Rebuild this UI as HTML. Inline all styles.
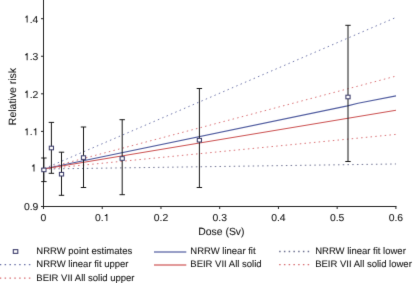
<!DOCTYPE html>
<html><head><meta charset="utf-8"><style>
html,body{margin:0;padding:0;background:#fff;width:413px;height:283px;overflow:hidden}
svg{display:block;will-change:transform}
text{font-family:"Liberation Sans", sans-serif;text-rendering:geometricPrecision;stroke:#141414;stroke-width:0.08px}
</style></head><body>
<svg width="413" height="283" viewBox="0 0 413 283">
<defs><filter id="soft" x="0" y="0" width="413" height="283" filterUnits="userSpaceOnUse" color-interpolation-filters="sRGB"><feConvolveMatrix order="3" kernelMatrix="1 10 1 10 100 10 1 10 1" divisor="144.0" edgeMode="duplicate" preserveAlpha="false"/></filter></defs>
<g filter="url(#soft)">
<rect x="0" y="0" width="413" height="283" fill="#fff"/>
<line x1="43.5" y1="169" x2="396" y2="163.98" stroke="#6c7090" stroke-width="0.95" stroke-dasharray="1.5 3.24" stroke-dashoffset="4.09"/>
<line x1="43.5" y1="169" x2="396" y2="134.4" stroke="#d86c70" stroke-width="0.95" stroke-dasharray="1.5 3.24" stroke-dashoffset="3.19"/>
<line x1="43.5" y1="169" x2="396" y2="76.1" stroke="#d86c70" stroke-width="0.95" stroke-dasharray="1.5 3.24" stroke-dashoffset="3.55"/>
<line x1="43.5" y1="169" x2="396" y2="17.4" stroke="#6a72a8" stroke-width="0.95" stroke-dasharray="1.5 3.24" stroke-dashoffset="3.53"/>
<polyline points="43.5,169 347.5,105.9 358,103.2 396,95.9" fill="none" stroke="#4e5a9e" stroke-width="1.1"/>
<line x1="43.5" y1="169" x2="396" y2="110.3" stroke="#cc5252" stroke-width="1.1"/>
<line x1="43.5" y1="0" x2="43.5" y2="207" stroke="#222222" stroke-width="1"/>
<line x1="43" y1="206.5" x2="396.5" y2="206.5" stroke="#222222" stroke-width="1"/>
<line x1="41" y1="206.50" x2="43.5" y2="206.50" stroke="#222222" stroke-width="1"/>
<g transform="translate(38.40,210.40) scale(1.04,1.0) translate(-38.40,-210.40)">
<text x="24.50" y="210.40" font-size="10.0" fill="#141414">0</text>
<text x="30.06" y="210.40" font-size="10.0" fill="#141414">.</text>
<text x="32.84" y="210.40" font-size="10.0" fill="#141414">9</text>
</g>
<line x1="41" y1="168.94" x2="43.5" y2="168.94" stroke="#222222" stroke-width="1"/>
<g transform="translate(36.60,171.44) scale(1.04,1.0) translate(-36.60,-171.44)">
<path transform="translate(31.04,171.44) scale(0.01000,-0.01000)" d="M352 0 L262 0 L262 500 L105 500 L105 568 Q238 575 270 712 L352 712 Z" fill="#141414"/>
</g>
<line x1="41" y1="131.38" x2="43.5" y2="131.38" stroke="#222222" stroke-width="1"/>
<g transform="translate(38.40,135.28) scale(1.04,1.0) translate(-38.40,-135.28)">
<path transform="translate(24.50,135.28) scale(0.01000,-0.01000)" d="M352 0 L262 0 L262 500 L105 500 L105 568 Q238 575 270 712 L352 712 Z" fill="#141414"/>
<text x="30.06" y="135.28" font-size="10.0" fill="#141414">.</text>
<path transform="translate(32.84,135.28) scale(0.01000,-0.01000)" d="M352 0 L262 0 L262 500 L105 500 L105 568 Q238 575 270 712 L352 712 Z" fill="#141414"/>
</g>
<line x1="41" y1="93.82" x2="43.5" y2="93.82" stroke="#222222" stroke-width="1"/>
<g transform="translate(38.40,97.72) scale(1.04,1.0) translate(-38.40,-97.72)">
<path transform="translate(24.50,97.72) scale(0.01000,-0.01000)" d="M352 0 L262 0 L262 500 L105 500 L105 568 Q238 575 270 712 L352 712 Z" fill="#141414"/>
<text x="30.06" y="97.72" font-size="10.0" fill="#141414">.</text>
<text x="32.84" y="97.72" font-size="10.0" fill="#141414">2</text>
</g>
<line x1="41" y1="56.26" x2="43.5" y2="56.26" stroke="#222222" stroke-width="1"/>
<g transform="translate(38.40,60.16) scale(1.04,1.0) translate(-38.40,-60.16)">
<path transform="translate(24.50,60.16) scale(0.01000,-0.01000)" d="M352 0 L262 0 L262 500 L105 500 L105 568 Q238 575 270 712 L352 712 Z" fill="#141414"/>
<text x="30.06" y="60.16" font-size="10.0" fill="#141414">.</text>
<text x="32.84" y="60.16" font-size="10.0" fill="#141414">3</text>
</g>
<line x1="41" y1="18.70" x2="43.5" y2="18.70" stroke="#222222" stroke-width="1"/>
<g transform="translate(38.40,22.60) scale(1.04,1.0) translate(-38.40,-22.60)">
<path transform="translate(24.50,22.60) scale(0.01000,-0.01000)" d="M352 0 L262 0 L262 500 L105 500 L105 568 Q238 575 270 712 L352 712 Z" fill="#141414"/>
<text x="30.06" y="22.60" font-size="10.0" fill="#141414">.</text>
<text x="32.84" y="22.60" font-size="10.0" fill="#141414">4</text>
</g>
<line x1="43.50" y1="206.5" x2="43.50" y2="209" stroke="#222222" stroke-width="1"/>
<g transform="translate(43.50,221.00) scale(1.04,1.0) translate(-43.50,-221.00)">
<text x="40.72" y="221.00" font-size="10.0" fill="#141414">0</text>
</g>
<line x1="102.23" y1="206.5" x2="102.23" y2="209" stroke="#222222" stroke-width="1"/>
<g transform="translate(102.23,221.00) scale(1.04,1.0) translate(-102.23,-221.00)">
<text x="95.28" y="221.00" font-size="10.0" fill="#141414">0</text>
<text x="100.84" y="221.00" font-size="10.0" fill="#141414">.</text>
<path transform="translate(103.62,221.00) scale(0.01000,-0.01000)" d="M352 0 L262 0 L262 500 L105 500 L105 568 Q238 575 270 712 L352 712 Z" fill="#141414"/>
</g>
<line x1="160.97" y1="206.5" x2="160.97" y2="209" stroke="#222222" stroke-width="1"/>
<g transform="translate(160.97,221.00) scale(1.04,1.0) translate(-160.97,-221.00)">
<text x="154.02" y="221.00" font-size="10.0" fill="#141414">0</text>
<text x="159.58" y="221.00" font-size="10.0" fill="#141414">.</text>
<text x="162.36" y="221.00" font-size="10.0" fill="#141414">2</text>
</g>
<line x1="219.70" y1="206.5" x2="219.70" y2="209" stroke="#222222" stroke-width="1"/>
<g transform="translate(219.70,221.00) scale(1.04,1.0) translate(-219.70,-221.00)">
<text x="212.75" y="221.00" font-size="10.0" fill="#141414">0</text>
<text x="218.31" y="221.00" font-size="10.0" fill="#141414">.</text>
<text x="221.09" y="221.00" font-size="10.0" fill="#141414">3</text>
</g>
<line x1="278.43" y1="206.5" x2="278.43" y2="209" stroke="#222222" stroke-width="1"/>
<g transform="translate(278.43,221.00) scale(1.04,1.0) translate(-278.43,-221.00)">
<text x="271.48" y="221.00" font-size="10.0" fill="#141414">0</text>
<text x="277.04" y="221.00" font-size="10.0" fill="#141414">.</text>
<text x="279.82" y="221.00" font-size="10.0" fill="#141414">4</text>
</g>
<line x1="337.17" y1="206.5" x2="337.17" y2="209" stroke="#222222" stroke-width="1"/>
<g transform="translate(337.17,221.00) scale(1.04,1.0) translate(-337.17,-221.00)">
<text x="330.22" y="221.00" font-size="10.0" fill="#141414">0</text>
<text x="335.78" y="221.00" font-size="10.0" fill="#141414">.</text>
<text x="338.56" y="221.00" font-size="10.0" fill="#141414">5</text>
</g>
<line x1="395.90" y1="206.5" x2="395.90" y2="209" stroke="#222222" stroke-width="1"/>
<g transform="translate(395.90,221.00) scale(1.04,1.0) translate(-395.90,-221.00)">
<text x="388.95" y="221.00" font-size="10.0" fill="#141414">0</text>
<text x="394.51" y="221.00" font-size="10.0" fill="#141414">.</text>
<text x="397.29" y="221.00" font-size="10.0" fill="#141414">6</text>
</g>
<text x="221.4" y="235.4" text-anchor="middle" font-size="10.4" fill="#141414">Dose (Sv)</text>
<text transform="translate(15.6,96.6) rotate(-90)" text-anchor="middle" font-size="10.5" fill="#141414">Relative risk</text>
<line x1="43.9" y1="158.0" x2="43.9" y2="181.6" stroke="#161616" stroke-width="1"/>
<line x1="41.199999999999996" y1="158.0" x2="46.6" y2="158.0" stroke="#161616" stroke-width="1"/>
<line x1="41.199999999999996" y1="181.6" x2="46.6" y2="181.6" stroke="#161616" stroke-width="1"/>
<line x1="51.4" y1="122.4" x2="51.4" y2="173.3" stroke="#161616" stroke-width="1"/>
<line x1="48.699999999999996" y1="122.4" x2="54.1" y2="122.4" stroke="#161616" stroke-width="1"/>
<line x1="48.699999999999996" y1="173.3" x2="54.1" y2="173.3" stroke="#161616" stroke-width="1"/>
<line x1="61.5" y1="152.2" x2="61.5" y2="195.3" stroke="#161616" stroke-width="1"/>
<line x1="58.8" y1="152.2" x2="64.2" y2="152.2" stroke="#161616" stroke-width="1"/>
<line x1="58.8" y1="195.3" x2="64.2" y2="195.3" stroke="#161616" stroke-width="1"/>
<line x1="83.5" y1="127.0" x2="83.5" y2="187.5" stroke="#161616" stroke-width="1"/>
<line x1="80.8" y1="127.0" x2="86.2" y2="127.0" stroke="#161616" stroke-width="1"/>
<line x1="80.8" y1="187.5" x2="86.2" y2="187.5" stroke="#161616" stroke-width="1"/>
<line x1="122.2" y1="119.7" x2="122.2" y2="194.7" stroke="#161616" stroke-width="1"/>
<line x1="119.5" y1="119.7" x2="124.9" y2="119.7" stroke="#161616" stroke-width="1"/>
<line x1="119.5" y1="194.7" x2="124.9" y2="194.7" stroke="#161616" stroke-width="1"/>
<line x1="199.4" y1="88.5" x2="199.4" y2="187.5" stroke="#161616" stroke-width="1"/>
<line x1="196.70000000000002" y1="88.5" x2="202.1" y2="88.5" stroke="#161616" stroke-width="1"/>
<line x1="196.70000000000002" y1="187.5" x2="202.1" y2="187.5" stroke="#161616" stroke-width="1"/>
<line x1="348.0" y1="25.3" x2="348.0" y2="161.5" stroke="#161616" stroke-width="1"/>
<line x1="345.3" y1="25.3" x2="350.7" y2="25.3" stroke="#161616" stroke-width="1"/>
<line x1="345.3" y1="161.5" x2="350.7" y2="161.5" stroke="#161616" stroke-width="1"/>
<rect x="41.80" y="168.10" width="4.2" height="3.6" fill="#fff" stroke="#3e3e6c" stroke-width="1.05"/>
<rect x="49.30" y="146.20" width="4.2" height="3.6" fill="#fff" stroke="#3e3e6c" stroke-width="1.05"/>
<rect x="59.40" y="172.40" width="4.2" height="3.6" fill="#fff" stroke="#3e3e6c" stroke-width="1.05"/>
<rect x="81.40" y="155.80" width="4.2" height="3.6" fill="#fff" stroke="#3e3e6c" stroke-width="1.05"/>
<rect x="120.10" y="156.70" width="4.2" height="3.6" fill="#fff" stroke="#3e3e6c" stroke-width="1.05"/>
<rect x="197.30" y="138.40" width="4.2" height="3.6" fill="#fff" stroke="#3e3e6c" stroke-width="1.05"/>
<rect x="345.90" y="95.20" width="4.2" height="3.6" fill="#fff" stroke="#3e3e6c" stroke-width="1.05"/>
<rect x="13.3" y="249.65" width="4.5" height="3.7" fill="#fff" stroke="#3e3e6c" stroke-width="1.1"/>
<text x="36.3" y="254.20" font-size="9.5" fill="#141414">NRRW point estimates</text>
<line x1="-0.25" y1="264.7" x2="31" y2="264.7" stroke="#6a72a8" stroke-width="1.3" stroke-dasharray="1.5 3.35"/>
<text x="36.3" y="267.40" font-size="9.5" fill="#141414">NRRW linear fit upper</text>
<line x1="-0.25" y1="278.2" x2="31" y2="278.2" stroke="#d86c70" stroke-width="1.3" stroke-dasharray="1.5 3.35"/>
<text x="36.3" y="280.90" font-size="9.5" fill="#141414">BEIR VII All solid upper</text>
<line x1="154" y1="252" x2="186.3" y2="252" stroke="#4e5a9e" stroke-width="1.3" opacity="0.8"/>
<text x="190.3" y="254.20" font-size="9.5" fill="#141414">NRRW linear fit</text>
<line x1="154" y1="265" x2="186.3" y2="265" stroke="#cc5252" stroke-width="1.3" opacity="0.8"/>
<text x="190.3" y="267.40" font-size="9.5" fill="#141414">BEIR VII All solid</text>
<line x1="279.15" y1="251.5" x2="310" y2="251.5" stroke="#6c7090" stroke-width="1.3" stroke-dasharray="1.5 3.25"/>
<text x="315.2" y="254.20" font-size="9.5" fill="#141414">NRRW linear fit lower</text>
<line x1="279.15" y1="264.7" x2="310" y2="264.7" stroke="#d86c70" stroke-width="1.3" stroke-dasharray="1.5 3.25"/>
<text x="315.2" y="267.40" font-size="9.5" fill="#141414">BEIR VII All solid lower</text>
</g>
</svg>
</body></html>
